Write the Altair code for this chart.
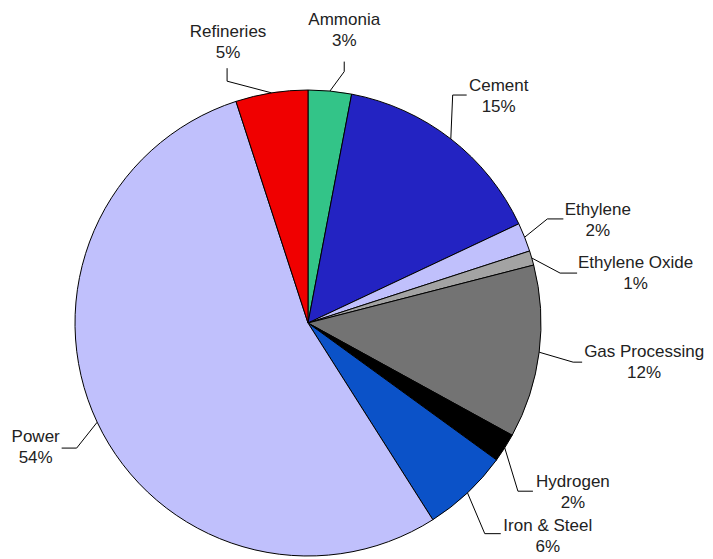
import altair as alt
import pandas as pd

# ---- data ----
categories = ["Ammonia", "Cement", "Ethylene", "Ethylene Oxide", "Gas Processing",
              "Hydrogen", "Iron & Steel", "Power", "Refineries"]
shares = [3, 15, 2, 1, 12, 2, 6, 54, 5]

# ---- styles ----
colors = ["#33c488", "#2323c2", "#c0c0fc", "#a3a3a3", "#737373",
          "#000000", "#0b52c8", "#c0c0fc", "#f00000"]

# ---- leader-line / label layout (pixels, degrees) ----
elbow_radius = [254, 270, 261, 257, 268, 269, 275, 263, 255]
elbow_turn = [2.8, -5.4, -1.9, 5.0, 1.2, 6.3, 3.2, -3.2, -9.5]
leg_dx = [0, 14, 16, 17, 9, 15, 16, -15, 0]
leg_dy = [-10, 0, 0, 0, 0, 0, 0, 0, -13]
text_dx = [0, 32, 34.5, 58.5, 62, 40, 47, -26, 1]
text_dy = [-31.5, 1.5, 1.5, 0, 0.5, 1, 2.5, -0.5, -25.5]
LINE_H = 21

CX, CY, R = 300, 315, 233

df = pd.DataFrame({
    "idx": list(range(len(categories))),
    "cat": categories,
    "share": shares,
    "er": elbow_radius,
    "et": elbow_turn,
    "ldx": leg_dx,
    "ldy": leg_dy,
    "tdx": text_dx,
    "tdy": text_dy,
})

base = alt.Chart(df)

pie = base.mark_arc(radius=R, stroke="black", strokeWidth=1).encode(
    theta=alt.Theta("share:Q", stack=True),
    order=alt.Order("idx:Q"),
    color=alt.Color("cat:N", scale=alt.Scale(domain=categories, range=colors), legend=None),
    x=alt.value(CX),
    y=alt.value(CY),
)

geo = base.transform_window(
    cum="sum(share)", sort=[alt.SortField("idx")], frame=[None, 0]
).transform_joinaggregate(
    total="sum(share)"
).transform_calculate(
    mid="(datum.cum - datum.share/2)/datum.total*2*PI"
).transform_calculate(
    ea="datum.mid + datum.et*PI/180",
    ex=f"{CX} + {R}*sin(datum.mid)",
    ey=f"{CY} - {R}*cos(datum.mid)",
).transform_calculate(
    bx=f"{CX} + datum.er*sin(datum.ea)",
    by=f"{CY} - datum.er*cos(datum.ea)",
).transform_calculate(
    nx="datum.bx + datum.ldx",
    ny="datum.by + datum.ldy",
).transform_calculate(
    tx="datum.nx + datum.tdx",
    ty=f"datum.ny + datum.tdy - {LINE_H / 2}",
    label="datum.cat + '\\n' + datum.share + '%'",
)

rule1 = geo.mark_rule(color="black", strokeWidth=1).encode(
    x=alt.X("ex:Q", scale=None), y=alt.Y("ey:Q", scale=None),
    x2="bx:Q", y2="by:Q",
)
rule2 = geo.mark_rule(color="black", strokeWidth=1).encode(
    x=alt.X("bx:Q", scale=None), y=alt.Y("by:Q", scale=None),
    x2="nx:Q", y2="ny:Q",
)
text = geo.mark_text(
    lineBreak="\n", align="center", baseline="middle",
    font="Liberation Sans", fontSize=17, lineHeight=LINE_H, color="#222222",
).encode(
    x=alt.X("tx:Q", scale=None), y=alt.Y("ty:Q", scale=None),
    text="label:N",
)

chart = alt.layer(pie, rule1, rule2, text).properties(
    width=697, height=551,
    autosize=alt.AutoSizeParams(type="none"),
    padding=0,
).configure_view(stroke=None)

chart.save("out.html", embed_options={"renderer": "svg", "actions": False})
